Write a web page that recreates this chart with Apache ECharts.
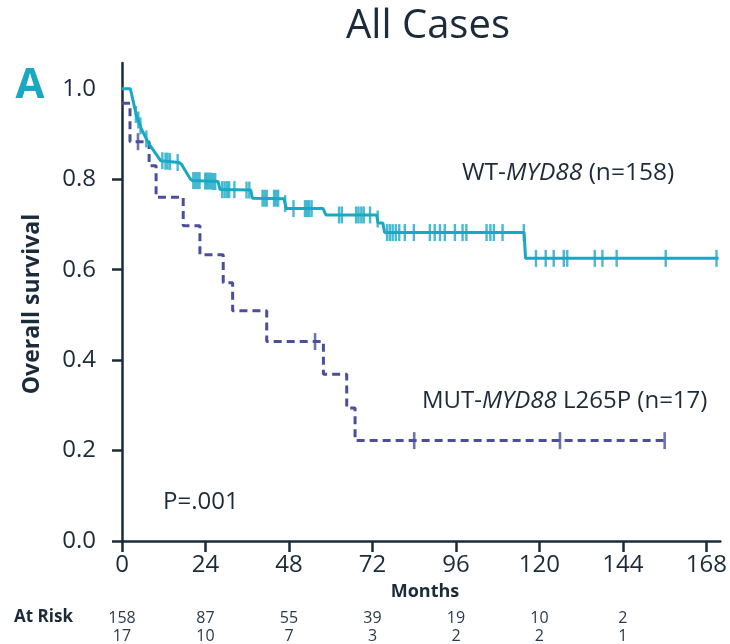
<!DOCTYPE html>
<html>
<head>
<meta charset="utf-8">
<script src="https://cdn.jsdelivr.net/npm/echarts@6/dist/echarts.min.js"></script>
<style>html,body{margin:0;padding:0;background:#fff;}#c{width:730px;height:644px;}</style>
</head>
<body>
<div id="c"></div>
<script>
// ---- data ----
var xTicks = [0, 24, 48, 72, 96, 120, 144, 168];
var yTicks = [0, 0.2, 0.4, 0.6, 0.8, 1.0];
var riskTimes = [0, 24, 48, 72, 96, 120, 144];
var riskWT = [158, 87, 55, 39, 19, 10, 2];
var riskMUT = [17, 10, 7, 3, 2, 2, 1];

// WT-MYD88 survival curve vertices [months, survival]
var wtCurve = [
  [0, 1.0], [2.4, 1.0], [4.2, 0.939], [5.7, 0.909], [7.6, 0.880], [11.1, 0.841],
  [16.4, 0.837], [17.1, 0.833], [19.5, 0.802], [20.2, 0.797], [27.6, 0.795],
  [28.2, 0.777], [37.0, 0.776], [37.5, 0.758], [46.6, 0.757], [47.2, 0.735],
  [57.8, 0.735], [58.6, 0.721], [73.2, 0.721], [73.6, 0.703], [75.0, 0.703],
  [75.5, 0.682], [115.6, 0.682], [116.0, 0.625], [171.5, 0.625]
];
// WT censored observations [months, survival]
var wtCensor = [
  [4.0, 0.943], [4.7, 0.931], [5.3, 0.918], [7.0, 0.889],
  [11.6, 0.841], [12.5, 0.840], [13.1, 0.840], [13.8, 0.839], [16.0, 0.837],
  [20.5, 0.797], [21.1, 0.797], [21.7, 0.797], [22.3, 0.797], [23.9, 0.796],
  [24.4, 0.796], [25.0, 0.796], [25.6, 0.796], [26.2, 0.795], [26.8, 0.795],
  [28.8, 0.777], [29.5, 0.777], [30.2, 0.777], [30.8, 0.777], [32.3, 0.777],
  [35.8, 0.776], [36.6, 0.776],
  [40.4, 0.758], [41.0, 0.758], [41.6, 0.758], [43.7, 0.758], [44.3, 0.758], [44.9, 0.758],
  [46.9, 0.746],
  [49.3, 0.735], [52.6, 0.735], [53.2, 0.735], [53.8, 0.735], [54.5, 0.735],
  [62.4, 0.721], [63.2, 0.721], [67.3, 0.721], [68.0, 0.721], [68.8, 0.721],
  [69.5, 0.721], [71.3, 0.721], [73.5, 0.712],
  [76.2, 0.682], [77.0, 0.682], [77.8, 0.682], [78.7, 0.682], [79.7, 0.682],
  [81.3, 0.682], [83.9, 0.682], [88.5, 0.682], [89.9, 0.682], [91.4, 0.682],
  [92.8, 0.682], [95.7, 0.682], [97.9, 0.682], [99.0, 0.682], [104.8, 0.682],
  [105.9, 0.682], [106.9, 0.682], [109.4, 0.682], [115.5, 0.682],
  [119.0, 0.625], [121.8, 0.625], [124.1, 0.625], [127.0, 0.625], [128.0, 0.625],
  [135.9, 0.625], [138.1, 0.625], [142.2, 0.625], [156.3, 0.625], [170.9, 0.625]
];
// MUT-MYD88 L265P step curve [event month, survival after]
var mutCurve = [
  [0, 0.968], [2.3, 0.883], [7.8, 0.830], [9.8, 0.760], [17.6, 0.697],
  [22.4, 0.633], [29.1, 0.571], [31.8, 0.509], [41.6, 0.441], [57.9, 0.369],
  [64.6, 0.294], [67.0, 0.222], [156.0, 0.222]
];
var mutCensor = [[4.6, 0.883], [55.5, 0.441], [84.0, 0.222], [125.9, 0.222], [156.0, 0.222]];

// ---- styling ----
var CYAN = '#19a8c4';
var MUT = '#4b4f9b';
var INK = '#1c2b39';
var FONT = '"Open Sans", "Noto Sans", sans-serif';

var chart = echarts.init(document.getElementById('c'), null, {renderer: 'canvas'});

function riskAxis(values, offset) {
  return {
    type: 'value', gridIndex: 0, position: 'bottom', offset: offset,
    min: 0, max: 172,
    axisLine: {show: false}, axisTick: {show: false}, splitLine: {show: false},
    axisLabel: {
      customValues: riskTimes, margin: 0, fontSize: 16, fontFamily: FONT, color: '#2b3a48',
      formatter: function (v) { var i = riskTimes.indexOf(v); return i >= 0 ? String(values[i]) : ''; }
    }
  };
}

var option = {
  animation: false,
  backgroundColor: '#ffffff',
  grid: {left: 122, right: 9, top: 63, bottom: 103},
  xAxis: [{
    type: 'value', min: 0, max: 172,
    axisLine: {show: true, lineStyle: {color: INK, width: 2.5}},
    axisTick: {show: true, customValues: xTicks, length: 11, lineStyle: {color: INK, width: 2.5}},
    axisLabel: {customValues: xTicks, margin: 12, fontSize: 24, fontFamily: FONT, color: INK},
    splitLine: {show: false}
  }, riskAxis(riskWT, 69), riskAxis(riskMUT, 87)],
  yAxis: {
    type: 'value', min: 0, max: 1.057,
    axisLine: {show: true, lineStyle: {color: INK, width: 2.5}},
    axisTick: {show: true, customValues: [0, 0.2, 0.4, 0.6, 0.8], length: 10, lineStyle: {color: INK, width: 2.5}},
    axisLabel: {customValues: yTicks, margin: 26, fontSize: 24, fontFamily: FONT, color: INK,
      formatter: function (v) { return v.toFixed(1); }},
    splitLine: {show: false}
  },
  series: [
    {type: 'line', xAxisIndex: 0, data: mutCurve, step: 'end', showSymbol: false, z: 2,
      lineStyle: {color: MUT, width: 3, type: [8, 5]}},
    {type: 'scatter', xAxisIndex: 0, data: mutCensor, symbol: 'rect', symbolSize: [2.6, 17], z: 3,
      itemStyle: {color: MUT}},
    {type: 'line', xAxisIndex: 0, data: wtCurve, showSymbol: false, z: 4,
      lineStyle: {color: CYAN, width: 3}},
    {type: 'scatter', xAxisIndex: 0, data: wtCensor, symbol: 'rect', symbolSize: [2.4, 17], z: 5,
      itemStyle: {color: CYAN}}
  ],
  graphic: [
    {type: 'text', x: 428, y: 27, style: {text: 'All Cases', fill: INK, font: '40px ' + FONT, align: 'center', verticalAlign: 'middle'}},
    {type: 'text', x: 30, y: 86, style: {text: 'A', fill: CYAN, font: 'bold 42px ' + FONT, align: 'center', verticalAlign: 'middle'}},
    {type: 'text', x: 32, y: 304, rotation: Math.PI / 2, style: {text: 'Overall survival', fill: INK, font: 'bold 23px ' + FONT, align: 'center', verticalAlign: 'middle'}},
    {type: 'text', x: 425, y: 592, style: {text: 'Months', fill: INK, font: 'bold 18px ' + FONT, align: 'center', verticalAlign: 'middle'}},
    {type: 'text', x: 14, y: 617, style: {text: 'At Risk', fill: INK, font: 'bold 17px ' + FONT, align: 'left', verticalAlign: 'middle'}},
    {type: 'text', x: 163, y: 502, style: {text: 'P=.001', fill: INK, font: '24px ' + FONT, align: 'left', verticalAlign: 'middle'}},
    {type: 'text', x: 462, y: 173, style: {
      text: '{n|WT-}{i|MYD88}{n| (n=158)}', align: 'left', verticalAlign: 'middle',
      rich: {n: {fill: INK, font: '24.5px ' + FONT}, i: {fill: INK, font: 'italic 24.5px ' + FONT}}}},
    {type: 'text', x: 422, y: 401, style: {
      text: '{n|MUT-}{i|MYD88}{n| L265P (n=17)}', align: 'left', verticalAlign: 'middle',
      rich: {n: {fill: INK, font: '24px ' + FONT}, i: {fill: INK, font: 'italic 24px ' + FONT}}}}
  ]
};
chart.setOption(option);
</script>
</body>
</html>
